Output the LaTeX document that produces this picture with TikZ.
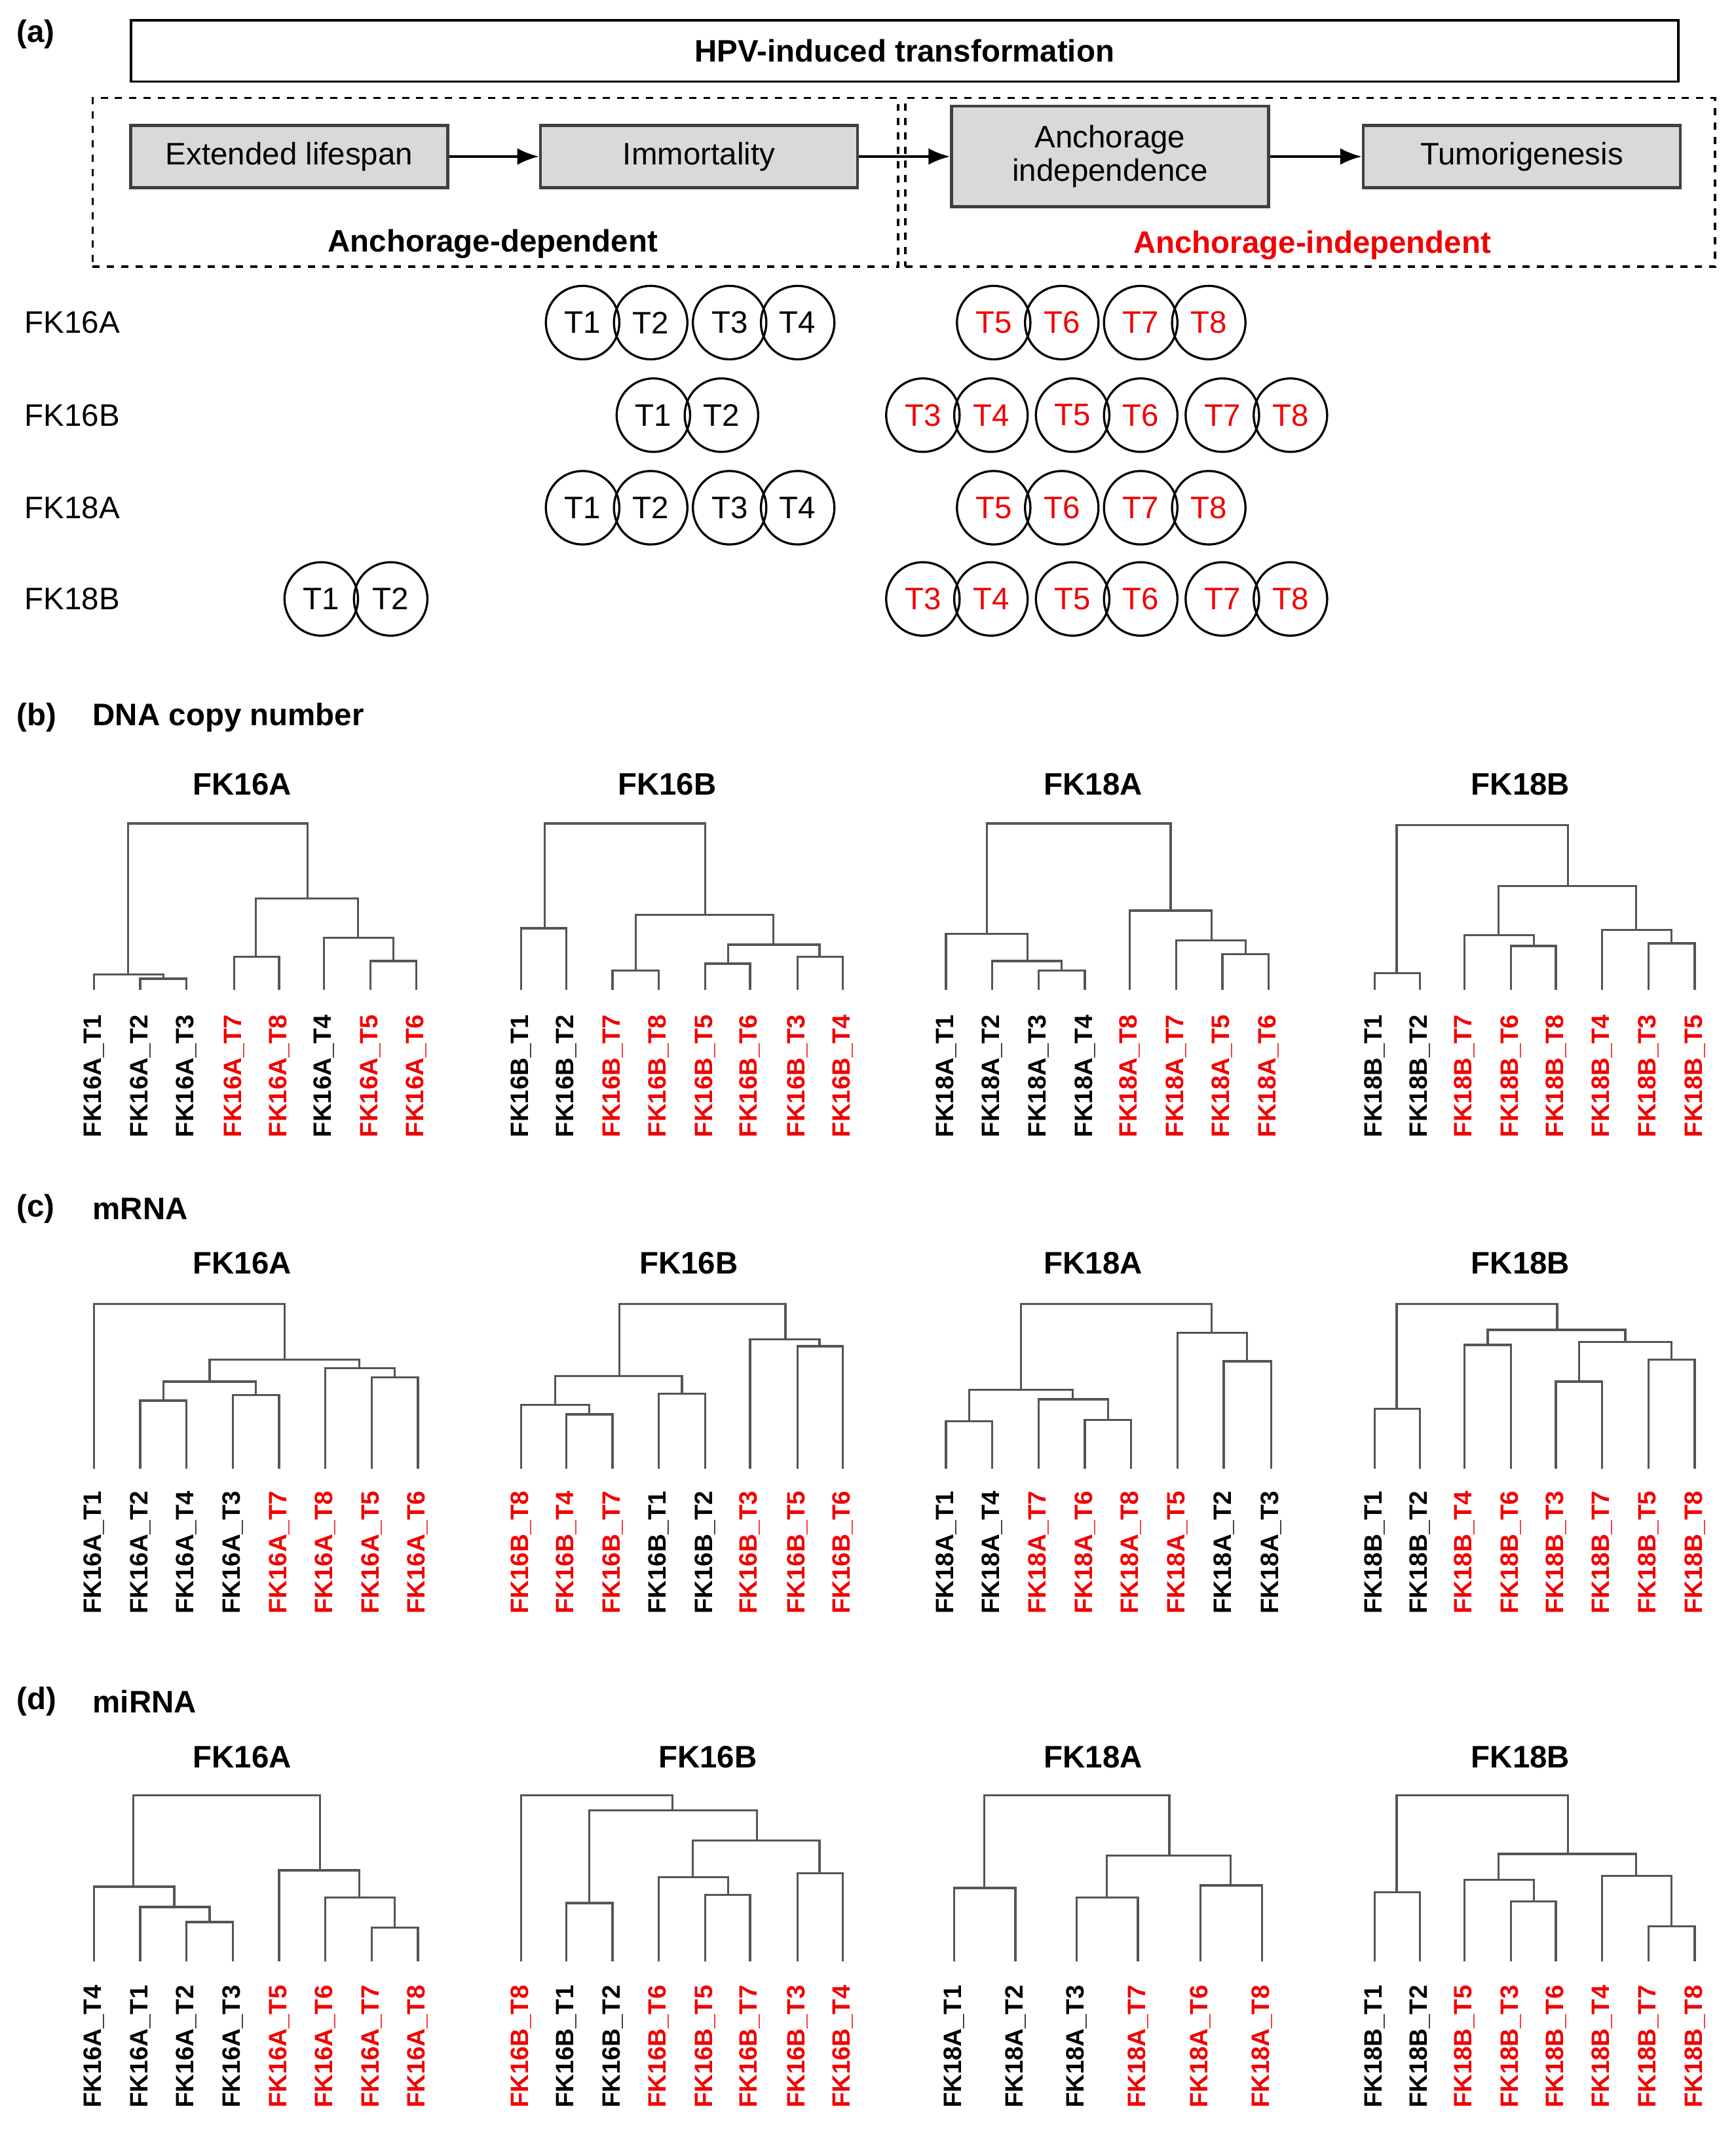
\documentclass[tikz,border=0pt]{standalone}
\usepackage{fontspec}
\setmainfont{Liberation Sans}
\usetikzlibrary{arrows.meta}
\definecolor{rd}{RGB}{240,0,0}
\definecolor{dg}{RGB}{85,85,85}
\newcommand{\dl}[5]{\draw[den] (#1,#4) -- (#1,#3) -- (#2,#3) -- (#2,#5);}
\newcommand{\labs}[2]{\foreach \x/\t/\c in {#2} {\node[lab,text=\c] at (\x,#1) {\t};}}
\begin{document}
\begin{tikzpicture}[x=0.02cm,y=-0.02cm,
  den/.style={draw=dg,line width=0.9pt},
  lab/.style={font=\fontsize{10.5}{12}\selectfont\bfseries,rotate=90,anchor=east,inner sep=0pt},
  ttl/.style={font=\fontsize{13}{15}\selectfont\bfseries},
  sec/.style={font=\fontsize{13}{15}\selectfont\bfseries,anchor=west},
  gbox/.style={draw=black!75,line width=1.3pt,fill=black!15,minimum width=4.66cm,font=\fontsize{13}{15}\selectfont,align=center,inner sep=0pt},
  circ/.style={circle,draw=black,line width=0.9pt,minimum size=1.08cm,inner sep=0pt,font=\fontsize{13}{15}\selectfont},
  rc/.style={circ,text=rd},
  row/.style={font=\fontsize{13}{15}\selectfont,anchor=west},
  arr/.style={-{Latex[length=9pt,width=7pt]},line width=1.1pt}]
\useasboundingbox (0,0) rectangle (1275,1567);
% ---------- (a)
\node[sec] (la) at (6,25) {(a)};
\node[draw,line width=1pt,minimum width=22.74cm,minimum height=0.9cm,ttl,inner sep=0pt] (hpv) at (664.5,37.5) {HPV-induced transformation};
\node[draw,dashed,line width=1pt,minimum width=11.84cm,minimum height=2.48cm] (dl) at (364,134) {};
\node[draw,dashed,line width=1pt,minimum width=11.9cm,minimum height=2.48cm] (dr) at (962.5,134) {};
\node[gbox,minimum height=0.92cm] (b1) at (212.5,115) {Extended lifespan};
\node[gbox,minimum height=0.92cm] (b2) at (513.5,115) {Immortality};
\node[gbox,minimum height=1.48cm] (b3) at (815.5,115) {Anchorage\\[-1pt]independence};
\node[gbox,minimum height=0.92cm] (b4) at (1118,115) {Tumorigenesis};
\draw[arr] (b1) -- (b2);
\draw[arr] (b2) -- (b3);
\draw[arr] (b3) -- (b4);
\node[ttl] (ad) at (362,179) {Anchorage-dependent};
\node[ttl,text=rd] (ai) at (964,180) {Anchorage-independent};
\node[row] (r1) at (12,237) {FK16A};
\node[row] (r2) at (12,305) {FK16B};
\node[row] (r3) at (12,373) {FK18A};
\node[row] (r4) at (12,440) {FK18B};
\foreach \y/\r in {237/a,373/c} {
  \node[circ] (\r1) at (428,\y) {T1};
  \node[circ] (\r2) at (478,\y) {T2};
  \node[circ] (\r3) at (536,\y) {T3};
  \node[circ] (\r4) at (586,\y) {T4};
  \node[rc] (\r5) at (730,\y) {T5};
  \node[rc] (\r6) at (780,\y) {T6};
  \node[rc] (\r7) at (838,\y) {T7};
  \node[rc] (\r8) at (888,\y) {T8};
}
\foreach \y/\r/\xa/\xb in {305/b/480/530,440/d/236/287} {
  \node[circ] (\r1) at (\xa,\y) {T1};
  \node[circ] (\r2) at (\xb,\y) {T2};
  \node[rc] (\r3) at (678,\y) {T3};
  \node[rc] (\r4) at (728,\y) {T4};
  \node[rc] (\r5) at (788,\y) {T5};
  \node[rc] (\r6) at (838,\y) {T6};
  \node[rc] (\r7) at (898,\y) {T7};
  \node[rc] (\r8) at (948,\y) {T8};
}
% ---------- (b)
\node[sec] (lb) at (6,527) {(b)};
\node[sec] (tb) at (62,527) {DNA copy number};
\node[ttl] (b16a) at (178,576) {FK16A};
\node[ttl] (b16b) at (490,576) {FK16B};
\node[ttl] (b18a) at (803,576) {FK18A};
\node[ttl] (b18b) at (1117,576) {FK18B};
\dl{103}{137}{719}{727}{727}\dl{69}{120}{716}{727}{719}\dl{172}{205}{703}{727}{727}\dl{272}{306}{706}{727}{727}
\dl{238}{289}{689}{727}{706}\dl{188}{263}{660}{703}{689}\dl{94}{226}{605}{716}{660}
\dl{383}{416}{682}{727}{727}\dl{450}{484}{713}{727}{727}\dl{518}{551}{708}{727}{727}\dl{586}{619}{703}{727}{727}
\dl{535}{602}{694}{708}{703}\dl{467}{568}{672}{713}{694}\dl{400}{518}{605}{682}{672}
\dl{763}{797}{713}{727}{727}\dl{729}{780}{706}{727}{713}\dl{695}{755}{686}{727}{706}\dl{898}{932}{701}{727}{727}
\dl{864}{915}{691}{727}{701}\dl{830}{890}{669}{727}{691}\dl{725}{860}{605}{686}{669}
\dl{1010}{1043}{715}{727}{727}\dl{1110}{1143}{695}{727}{727}\dl{1076}{1127}{687}{727}{695}\dl{1211}{1245}{693}{727}{727}
\dl{1177}{1228}{683}{727}{693}\dl{1101}{1202}{651}{687}{683}\dl{1026}{1152}{606}{715}{651}
\labs{745}{69/FK16A\_T1/black,103/FK16A\_T2/black,137/FK16A\_T3/black,172/FK16A\_T7/rd,205/FK16A\_T8/rd,238/FK16A\_T4/black,272/FK16A\_T5/rd,306/FK16A\_T6/rd}
\labs{745}{383/FK16B\_T1/black,416/FK16B\_T2/black,450/FK16B\_T7/rd,484/FK16B\_T8/rd,518/FK16B\_T5/rd,551/FK16B\_T6/rd,586/FK16B\_T3/rd,619/FK16B\_T4/rd}
\labs{745}{695/FK18A\_T1/black,729/FK18A\_T2/black,763/FK18A\_T3/black,797/FK18A\_T4/black,830/FK18A\_T8/rd,864/FK18A\_T7/rd,898/FK18A\_T5/rd,932/FK18A\_T6/rd}
\labs{745}{1010/FK18B\_T1/black,1043/FK18B\_T2/black,1076/FK18B\_T7/rd,1110/FK18B\_T6/rd,1143/FK18B\_T8/rd,1177/FK18B\_T4/rd,1211/FK18B\_T3/rd,1245/FK18B\_T5/rd}
% ---------- (c)
\node[sec] (lc) at (6,888) {(c)};
\node[sec] (tc) at (62,888) {mRNA};
\node[ttl] (c16a) at (178,928) {FK16A};
\node[ttl] (c16b) at (506,928) {FK16B};
\node[ttl] (c18a) at (803,928) {FK18A};
\node[ttl] (c18b) at (1117,928) {FK18B};
\dl{103}{137}{1029}{1079}{1079}\dl{171}{205}{1025}{1079}{1079}\dl{120}{188}{1015}{1029}{1025}\dl{273}{307}{1012}{1079}{1079}
\dl{239}{290}{1005}{1079}{1012}\dl{154}{264}{999}{1015}{1005}\dl{69}{209}{958}{1079}{999}
\dl{416}{450}{1039}{1079}{1079}\dl{383}{433}{1032}{1079}{1039}\dl{484}{518}{1024}{1079}{1079}\dl{408}{501}{1011}{1032}{1024}
\dl{586}{619}{989}{1079}{1079}\dl{551}{602}{984}{1079}{989}\dl{455}{577}{958}{1011}{984}
\dl{695}{729}{1044}{1079}{1079}\dl{797}{831}{1043}{1079}{1079}\dl{763}{814}{1028}{1079}{1043}\dl{712}{788}{1021}{1044}{1028}
\dl{899}{934}{1000}{1079}{1079}\dl{865}{916}{979}{1079}{1000}\dl{750}{890}{958}{1021}{979}
\dl{1010}{1043}{1035}{1079}{1079}\dl{1076}{1110}{988}{1079}{1079}\dl{1143}{1177}{1015}{1079}{1079}\dl{1211}{1245}{999}{1079}{1079}
\dl{1160}{1228}{986}{1015}{999}\dl{1093}{1194}{977}{988}{986}\dl{1026}{1144}{958}{1035}{977}
\labs{1095}{69/FK16A\_T1/black,103/FK16A\_T2/black,137/FK16A\_T4/black,171/FK16A\_T3/black,205/FK16A\_T7/rd,239/FK16A\_T8/rd,273/FK16A\_T5/rd,307/FK16A\_T6/rd}
\labs{1095}{383/FK16B\_T8/rd,416/FK16B\_T4/rd,450/FK16B\_T7/rd,484/FK16B\_T1/black,518/FK16B\_T2/black,551/FK16B\_T3/rd,586/FK16B\_T5/rd,619/FK16B\_T6/rd}
\labs{1095}{695/FK18A\_T1/black,729/FK18A\_T4/black,763/FK18A\_T7/rd,797/FK18A\_T6/rd,831/FK18A\_T8/rd,865/FK18A\_T5/rd,899/FK18A\_T2/black,934/FK18A\_T3/black}
\labs{1095}{1010/FK18B\_T1/black,1043/FK18B\_T2/black,1076/FK18B\_T4/rd,1110/FK18B\_T6/rd,1143/FK18B\_T3/rd,1177/FK18B\_T7/rd,1211/FK18B\_T5/rd,1245/FK18B\_T8/rd}
% ---------- (d)
\node[sec] (ld) at (6,1250) {(d)};
\node[sec] (td) at (62,1250) {miRNA};
\node[ttl] (d16a) at (178,1291) {FK16A};
\node[ttl] (d16b) at (520,1291) {FK16B};
\node[ttl] (d18a) at (803,1291) {FK18A};
\node[ttl] (d18b) at (1117,1291) {FK18B};
\dl{137}{171}{1412}{1441}{1441}\dl{103}{154}{1401}{1441}{1412}\dl{69}{128}{1386}{1441}{1401}\dl{273}{307}{1416}{1441}{1441}
\dl{239}{290}{1394}{1441}{1416}\dl{205}{264}{1374}{1441}{1394}\dl{98}{235}{1319}{1386}{1374}
\dl{416}{450}{1398}{1441}{1441}\dl{518}{551}{1392}{1441}{1441}\dl{484}{535}{1379}{1441}{1392}\dl{586}{619}{1376}{1441}{1441}
\dl{509}{602}{1352}{1379}{1376}\dl{433}{556}{1330}{1398}{1352}\dl{383}{494}{1319}{1441}{1330}
\dl{701}{746}{1387}{1441}{1441}\dl{791}{836}{1394}{1441}{1441}\dl{882}{927}{1385}{1441}{1441}\dl{813}{904}{1363}{1394}{1385}
\dl{723}{859}{1319}{1387}{1363}
\dl{1010}{1043}{1390}{1441}{1441}\dl{1110}{1143}{1397}{1441}{1441}\dl{1076}{1127}{1381}{1441}{1397}\dl{1211}{1245}{1415}{1441}{1441}
\dl{1177}{1228}{1378}{1441}{1415}\dl{1101}{1202}{1362}{1381}{1378}\dl{1026}{1152}{1319}{1390}{1362}
\labs{1458}{69/FK16A\_T4/black,103/FK16A\_T1/black,137/FK16A\_T2/black,171/FK16A\_T3/black,205/FK16A\_T5/rd,239/FK16A\_T6/rd,273/FK16A\_T7/rd,307/FK16A\_T8/rd}
\labs{1458}{383/FK16B\_T8/rd,416/FK16B\_T1/black,450/FK16B\_T2/black,484/FK16B\_T6/rd,518/FK16B\_T5/rd,551/FK16B\_T7/rd,586/FK16B\_T3/rd,619/FK16B\_T4/rd}
\labs{1458}{701/FK18A\_T1/black,746/FK18A\_T2/black,791/FK18A\_T3/black,836/FK18A\_T7/rd,882/FK18A\_T6/rd,927/FK18A\_T8/rd}
\labs{1458}{1010/FK18B\_T1/black,1043/FK18B\_T2/black,1076/FK18B\_T5/rd,1110/FK18B\_T3/rd,1143/FK18B\_T6/rd,1177/FK18B\_T4/rd,1211/FK18B\_T7/rd,1245/FK18B\_T8/rd}
\end{tikzpicture}
\end{document}
